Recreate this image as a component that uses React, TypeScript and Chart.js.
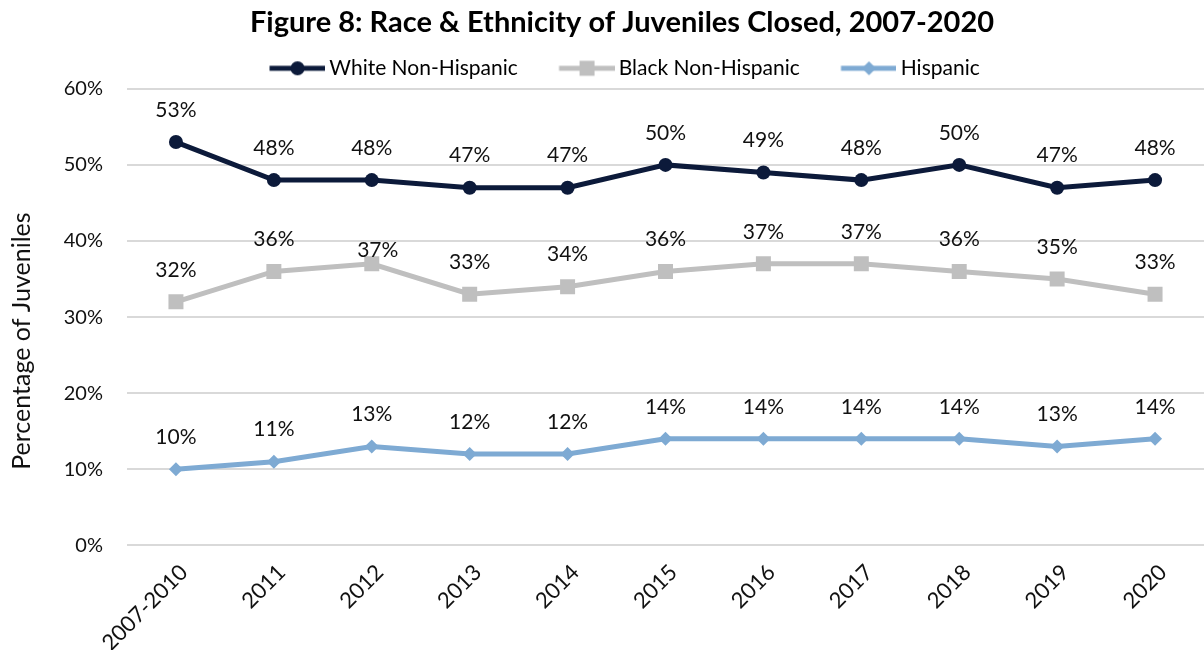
import React, { useEffect, useRef } from "react";
import { Chart, registerables } from "chart.js";

Chart.register(...registerables);

// ---------- data ----------
const categories = ["2007-2010", "2011", "2012", "2013", "2014", "2015", "2016", "2017", "2018", "2019", "2020"];
const whiteNonHispanic = [53, 48, 48, 47, 47, 50, 49, 48, 50, 47, 48];
const blackNonHispanic = [32, 36, 37, 33, 34, 36, 37, 37, 36, 35, 33];
const hispanic = [10, 11, 13, 12, 12, 14, 14, 14, 14, 13, 14];
const seriesNames = ["White Non-Hispanic", "Black Non-Hispanic", "Hispanic"];
const yMin = 0;
const yMax = 60;
const yStep = 10;

const titleText = "Figure 8: Race & Ethnicity of Juveniles Closed, 2007-2020";
const yTitleText = "Percentage of Juveniles";

// ---------- style ----------
const FONT = "Lato, 'Open Sans', sans-serif";
const NAVY = "#0c1a3a";
const GRAY = "#bfbfbf";
const BLUE = "#7eaad3";
const TEXT = "#111111";
const GRID = "#d9d9d9";

// label nudges (dataset-index) -> [dx, dy], relative to default position above point
const labelNudges: Record<string, [number, number]> = { "1-2": [6, 18] };

const LEG_BOX = 80.5;
const LEG_ICON_W = 93.5;
const LEG_LINE = 56;
const Y_AXIS_WIDTH = 127;

function legendIcon(color: string, style: string): HTMLCanvasElement {
  const c = document.createElement("canvas");
  c.width = LEG_ICON_W;
  c.height = 20;
  const ctx = c.getContext("2d")!;
  const x0 = LEG_ICON_W - LEG_LINE;
  const cx = x0 + LEG_LINE / 2;
  ctx.strokeStyle = color;
  ctx.fillStyle = color;
  ctx.lineWidth = 5;
  ctx.beginPath();
  ctx.moveTo(x0, 10);
  ctx.lineTo(LEG_ICON_W, 10);
  ctx.stroke();
  ctx.beginPath();
  if (style === "circle") {
    ctx.arc(cx, 10, 7, 0, Math.PI * 2);
  } else if (style === "rect") {
    ctx.rect(cx - 7.5, 10 - 7.5, 15, 15);
  } else {
    ctx.moveTo(cx, 3);
    ctx.lineTo(cx + 7, 10);
    ctx.lineTo(cx, 17);
    ctx.lineTo(cx - 7, 10);
    ctx.closePath();
  }
  ctx.fill();
  return c;
}

const Y_TITLE_PAD_TOP = 7;
const Y_TITLE_SIZE = 25;

const helperPlugin = {
  id: "excelLike",
  afterLayout(chart: any) {
    // Center title & legend like the original (shifted right)
    if (chart.titleBlock) chart.titleBlock.left += 40;
    if (chart.legend) chart.legend.left += 14;
  },
  afterDatasetsDraw(chart: any) {
    const ctx = chart.ctx;
    ctx.save();
    ctx.font = `21px ${FONT}`;
    ctx.fillStyle = TEXT;
    ctx.textAlign = "center";
    ctx.textBaseline = "middle";
    chart.data.datasets.forEach((ds: any, di: number) => {
      const meta = chart.getDatasetMeta(di);
      meta.data.forEach((pt: any, i: number) => {
        const nudge = labelNudges[`${di}-${i}`] || [0, 0];
        ctx.fillText(`${ds.data[i]}%`, pt.x + nudge[0], pt.y - 32 + nudge[1]);
      });
    });
    ctx.restore();
  },
  afterDraw(chart: any) {
    const ctx = chart.ctx;
    const yScale = chart.scales.y;
    const x = yScale.left + Y_TITLE_PAD_TOP + (Y_TITLE_SIZE * 1.2) / 2;
    const y = (chart.chartArea.top + chart.chartArea.bottom) / 2 + 24;
    ctx.save();
    ctx.translate(x, y);
    ctx.rotate(-Math.PI / 2);
    ctx.font = `${Y_TITLE_SIZE}px ${FONT}`;
    ctx.fillStyle = TEXT;
    ctx.textAlign = "center";
    ctx.textBaseline = "middle";
    ctx.fillText(yTitleText, 0, 0);
    ctx.restore();
  },
};

export default function App() {
  const ref = useRef<HTMLCanvasElement | null>(null);

  useEffect(() => {
    if (!ref.current) return;
    const icons = [legendIcon(NAVY, "circle"), legendIcon(GRAY, "rect"), legendIcon(BLUE, "rectRot")];
    const chart = new Chart(ref.current, {
      type: "line",
      data: {
        labels: categories,
        datasets: [
          {
            label: seriesNames[0],
            data: whiteNonHispanic,
            borderColor: NAVY,
            backgroundColor: NAVY,
            borderWidth: 5,
            pointStyle: "circle",
            pointRadius: 7,
            pointBorderWidth: 0,
          },
          {
            label: seriesNames[1],
            data: blackNonHispanic,
            borderColor: GRAY,
            backgroundColor: GRAY,
            borderWidth: 5,
            pointStyle: "rect",
            pointRadius: 10.6,
            pointBorderWidth: 0,
          },
          {
            label: seriesNames[2],
            data: hispanic,
            borderColor: BLUE,
            backgroundColor: BLUE,
            borderWidth: 5,
            pointStyle: "rectRot",
            pointRadius: 7,
            pointBorderWidth: 0,
          },
        ],
      },
      options: {
        responsive: false,
        animation: false,
        devicePixelRatio: 1,
        layout: { autoPadding: false, padding: { left: 0, right: 0, top: 0, bottom: -20 } },
        plugins: {
          tooltip: { enabled: false },
          title: {
            display: true,
            text: titleText,
            color: "#000",
            font: { family: FONT, size: 29, weight: "bold" },
            padding: { top: 5, bottom: 8 },
          },
          legend: {
            display: true,
            position: "top",
            labels: {
              usePointStyle: true,
              pointStyleWidth: LEG_BOX,
              boxHeight: 20,
              padding: 10,
              color: "#000",
              font: { family: FONT, size: 21 },
              generateLabels: (c: any) =>
                c.data.datasets.map((ds: any, i: number) => ({
                  text: ds.label,
                  fillStyle: ds.borderColor,
                  strokeStyle: ds.borderColor,
                  lineWidth: 0,
                  pointStyle: icons[i],
                  hidden: false,
                  datasetIndex: i,
                  fontColor: "#000",
                })),
            },
          },
        },
        scales: {
          x: {
            offset: true,
            grid: { display: false, drawTicks: false },
            border: { display: false },
            ticks: {
              color: TEXT,
              font: { family: FONT, size: 22 },
              minRotation: 45,
              maxRotation: 45,
              padding: 14,
              labelOffset: 8,
            },
            afterFit: (scale: any) => {
              scale.paddingLeft = 0;
              scale.paddingRight = 0;
            },
          },
          y: {
            min: yMin,
            max: yMax,
            grid: { color: GRID, lineWidth: 2, drawTicks: false },
            border: { display: false },
            ticks: {
              stepSize: yStep,
              color: TEXT,
              font: { family: FONT, size: 20 },
              padding: 24,
              callback: (v: any) => `${v}%`,
            },
            title: {
              display: true,
              text: yTitleText,
              color: "rgba(0,0,0,0)",
              font: { family: FONT, size: Y_TITLE_SIZE },
              padding: { top: Y_TITLE_PAD_TOP, bottom: 26 },
            },
            afterFit: (scale: any) => {
              scale.width = Y_AXIS_WIDTH;
            },
          },
        },
      },
      plugins: [helperPlugin],
    });
    return () => chart.destroy();
  }, []);

  return (
    <div style={{ position: "absolute", left: 0, top: 0, width: 1204, height: 650, background: "#fff" }}>
      <canvas ref={ref} width={1204} height={650} style={{ width: 1204, height: 650, display: "block" }} />
    </div>
  );
}
